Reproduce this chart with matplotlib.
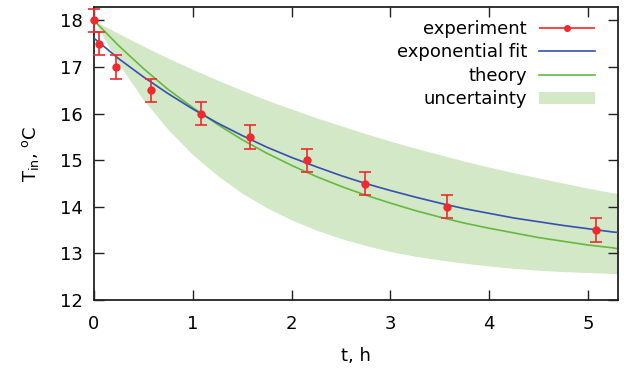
import matplotlib
matplotlib.use("Agg")
import matplotlib.pyplot as plt
from matplotlib.container import ErrorbarContainer
from matplotlib.legend_handler import HandlerErrorbar
from matplotlib.patches import Patch
from matplotlib.lines import Line2D

plt.rcParams['font.family'] = ['DejaVu Sans']
plt.rcParams['mathtext.fontset'] = 'dejavusans'

# measured points
t_exp = [0.0, 0.05, 0.22, 0.58, 1.08, 1.58, 2.16, 2.74, 3.57, 5.08]
T_exp = [18.0, 17.5, 17.0, 16.5, 16.0, 15.5, 15.0, 14.5, 14.0, 13.5]
T_err = [0.25] * len(t_exp)

# curves
t_curve = [0.0, 0.25, 0.5, 0.75, 1.0, 1.25, 1.5, 1.75, 2.0, 2.25, 2.5,
           2.75, 3.0, 3.25, 3.5, 3.75, 4.0, 4.25, 4.5, 4.75, 5.0, 5.25, 5.3]
T_fit = [17.62, 17.18, 16.79, 16.43, 16.10, 15.80, 15.53, 15.28, 15.06, 14.86, 14.67,
         14.50, 14.35, 14.21, 14.08, 13.96, 13.86, 13.76, 13.68, 13.60, 13.53, 13.46, 13.45]
T_theory = [18.00, 17.46, 16.97, 16.52, 16.13, 15.77, 15.44, 15.15, 14.89, 14.65, 14.44,
            14.25, 14.08, 13.92, 13.78, 13.65, 13.54, 13.44, 13.34, 13.26, 13.18, 13.12, 13.10]
T_upper = [18.00, 17.72, 17.45, 17.19, 16.95, 16.72, 16.50, 16.29, 16.10, 15.91, 15.74,
           15.57, 15.41, 15.26, 15.12, 14.98, 14.85, 14.73, 14.62, 14.51, 14.40, 14.30, 14.29]
T_lower = [18.00, 17.07, 16.30, 15.66, 15.12, 14.67, 14.29, 13.98, 13.72, 13.50, 13.32,
           13.17, 13.04, 12.94, 12.86, 12.79, 12.73, 12.68, 12.64, 12.61, 12.59, 12.57, 12.56]

x_ticks = [0, 1, 2, 3, 4, 5]
y_ticks = [12, 13, 14, 15, 16, 17, 18]

red = '#ee2a2e'
blue = '#3550b0'
green = '#66b840'
band = '#d2e8c6'

fig = plt.figure(figsize=(6.24, 3.72), dpi=100)
ax = fig.add_axes([0.1506, 0.1935, 0.8394, 0.7865])

ax.fill_between(t_curve, T_lower, T_upper, color=band, linewidth=0, zorder=1)
ax.plot(t_curve, T_theory, color=green, lw=1.2, zorder=2)
ax.plot(t_curve, T_fit, color=blue, lw=1.2, zorder=3)
ax.errorbar(t_exp, T_exp, yerr=T_err, fmt='o', color=red, ms=5, elinewidth=1.2,
            capsize=4, capthick=1.2, zorder=4, clip_on=False)

# legend proxy for the horizontal errorbar sample
dummy = ax.errorbar([], [], xerr=[], fmt='o', color=red, ms=4, elinewidth=1.2,
                    capsize=4, capthick=1.2)

handles = [dummy,
           Line2D([], [], color=blue, lw=1.2),
           Line2D([], [], color=green, lw=1.2),
           Patch(facecolor=band, edgecolor='none')]
labels = ['experiment', 'exponential fit', 'theory', 'uncertainty']
ax.legend(handles, labels, loc='upper right', frameon=False, markerfirst=False,
          fontsize=13, handlelength=3.1, handletextpad=0.65, labelspacing=0.3,
          borderaxespad=0.3, bbox_to_anchor=(0.98, 1.0),
          handler_map={ErrorbarContainer: HandlerErrorbar(xerr_size=1.55, numpoints=1)})

ax.set_xlim(0, 5.3)
ax.set_ylim(12, 18.28)
ax.set_xticks(x_ticks)
ax.set_yticks(y_ticks)
ax.tick_params(direction='in', top=True, right=True, length=7, width=1.0,
               labelsize=13, color='#222222')
ax.tick_params(axis='x', pad=11)
ax.tick_params(axis='y', pad=8)
for s in ax.spines.values():
    s.set_linewidth(1.3)
    s.set_color('#222222')

ax.set_xlabel('t, h', fontsize=13, labelpad=10)
ax.set_ylabel(r'T$_{\mathrm{in}}$, $^{\mathrm{o}}$C', fontsize=13, labelpad=14)

fig.savefig('out.png', dpi=100)
